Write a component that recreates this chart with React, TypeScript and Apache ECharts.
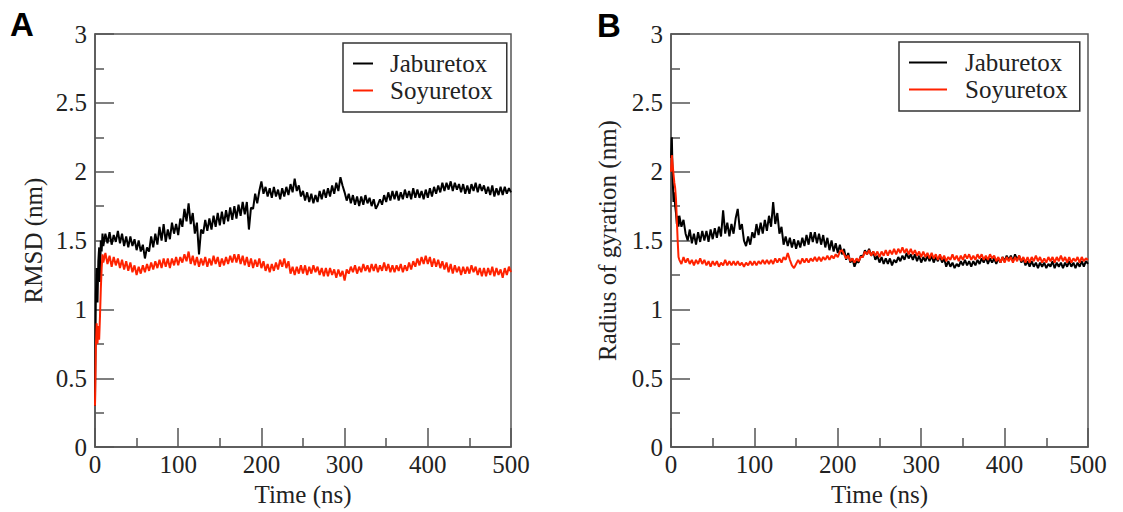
import React, { useEffect, useRef } from "react";
import * as echarts from "echarts";

const time = [0, 1, 2, 3, 4, 5, 6, 7, 8, 9,
  10, 12.5, 15, 17.5, 20, 22.5, 25, 27.5, 30, 32.5, 35, 37.5, 40, 42.5, 45, 47.5,
  50, 52.5, 55, 57.5, 60, 62.5, 65, 67.5, 70, 72.5, 75, 77.5, 80, 82.5, 85, 87.5, 90, 92.5, 95, 97.5,
  100, 102.5, 105, 107.5, 110, 112.5, 115, 117.5, 120, 122.5, 125, 127.5, 130, 132.5, 135, 137.5, 140, 142.5, 145, 147.5,
  150, 152.5, 155, 157.5, 160, 162.5, 165, 167.5, 170, 172.5, 175, 177.5, 180, 182.5, 185, 187.5, 190, 192.5, 195, 197.5,
  200, 202.5, 205, 207.5, 210, 212.5, 215, 217.5, 220, 222.5, 225, 227.5, 230, 232.5, 235, 237.5, 240, 242.5, 245, 247.5,
  250, 252.5, 255, 257.5, 260, 262.5, 265, 267.5, 270, 272.5, 275, 277.5, 280, 282.5, 285, 287.5, 290, 292.5, 295, 297.5,
  300, 302.5, 305, 307.5, 310, 312.5, 315, 317.5, 320, 322.5, 325, 327.5, 330, 332.5, 335, 337.5, 340, 342.5, 345, 347.5,
  350, 352.5, 355, 357.5, 360, 362.5, 365, 367.5, 370, 372.5, 375, 377.5, 380, 382.5, 385, 387.5, 390, 392.5, 395, 397.5,
  400, 402.5, 405, 407.5, 410, 412.5, 415, 417.5, 420, 422.5, 425, 427.5, 430, 432.5, 435, 437.5, 440, 442.5, 445, 447.5,
  450, 452.5, 455, 457.5, 460, 462.5, 465, 467.5, 470, 472.5, 475, 477.5, 480, 482.5, 485, 487.5, 490, 492.5, 495, 497.5,
  500];

const rmsdJaburetox = [0.3, 1.1, 1.3, 1.05, 1.35, 1.45, 1.2, 1.5, 1.42, 1.55,
  1.46, 1.55, 1.48, 1.56, 1.47, 1.54, 1.49, 1.57, 1.48, 1.55, 1.46, 1.53, 1.45, 1.53, 1.46, 1.51,
  1.43, 1.5, 1.42, 1.47, 1.37, 1.45, 1.42, 1.53, 1.45, 1.55, 1.47, 1.6, 1.5, 1.62, 1.49, 1.58, 1.51, 1.63, 1.55, 1.62,
  1.54, 1.66, 1.6, 1.73, 1.64, 1.77, 1.62, 1.7, 1.55, 1.63, 1.4, 1.58, 1.55, 1.65, 1.57, 1.66, 1.58, 1.68, 1.6, 1.7,
  1.61, 1.71, 1.62, 1.72, 1.64, 1.74, 1.65, 1.75, 1.66, 1.76, 1.68, 1.78, 1.69, 1.78, 1.58, 1.74, 1.73, 1.84, 1.77, 1.86,
  1.93, 1.84, 1.89, 1.82, 1.88, 1.81, 1.89, 1.82, 1.87, 1.8, 1.88, 1.82, 1.89, 1.83, 1.91, 1.85, 1.95, 1.86, 1.9, 1.82,
  1.86, 1.79, 1.85, 1.78, 1.84, 1.77, 1.83, 1.78, 1.86, 1.8, 1.87, 1.81, 1.88, 1.82, 1.9, 1.84, 1.92, 1.86, 1.96, 1.9,
  1.85, 1.79, 1.84, 1.77, 1.83, 1.76, 1.82, 1.75, 1.82, 1.76, 1.83, 1.77, 1.81, 1.75, 1.8, 1.73, 1.76, 1.8, 1.76, 1.83,
  1.78, 1.85, 1.79, 1.86, 1.8, 1.86, 1.79, 1.85, 1.8, 1.87, 1.81, 1.86, 1.8, 1.88, 1.81, 1.87, 1.81, 1.86, 1.8, 1.87,
  1.81, 1.88, 1.82, 1.89, 1.84, 1.9, 1.85, 1.92, 1.86, 1.92, 1.87, 1.93, 1.86, 1.92, 1.87, 1.91, 1.85, 1.91, 1.84, 1.9,
  1.84, 1.91, 1.86, 1.92, 1.85, 1.91, 1.86, 1.9, 1.84, 1.89, 1.83, 1.9, 1.82, 1.88, 1.83, 1.89, 1.83, 1.89, 1.84, 1.88,
  1.85];

const rmsdSoyuretox = [0.3, 0.72, 0.9, 0.75, 0.88, 0.78, 0.95, 1.15, 1.3, 1.4,
  1.34, 1.41, 1.33, 1.39, 1.31, 1.38, 1.32, 1.37, 1.3, 1.36, 1.29, 1.35, 1.28, 1.34, 1.27, 1.32,
  1.25, 1.31, 1.26, 1.32, 1.27, 1.33, 1.28, 1.34, 1.29, 1.35, 1.3, 1.36, 1.3, 1.37, 1.31, 1.37, 1.3, 1.37, 1.32, 1.38,
  1.32, 1.38, 1.34, 1.4, 1.35, 1.42, 1.33, 1.39, 1.32, 1.38, 1.31, 1.37, 1.32, 1.38, 1.31, 1.37, 1.32, 1.39, 1.33, 1.38,
  1.31, 1.37, 1.32, 1.38, 1.33, 1.39, 1.34, 1.4, 1.34, 1.4, 1.33, 1.39, 1.32, 1.38, 1.31, 1.37, 1.3, 1.36, 1.31, 1.37,
  1.3, 1.35, 1.28, 1.33, 1.27, 1.33, 1.28, 1.34, 1.29, 1.36, 1.31, 1.37, 1.3, 1.35, 1.26, 1.31, 1.25, 1.31, 1.26, 1.32,
  1.26, 1.32, 1.25, 1.31, 1.26, 1.32, 1.27, 1.31, 1.25, 1.3, 1.24, 1.3, 1.24, 1.3, 1.25, 1.29, 1.23, 1.29, 1.24, 1.28,
  1.21, 1.29, 1.26, 1.31, 1.27, 1.32, 1.26, 1.31, 1.27, 1.33, 1.28, 1.32, 1.27, 1.33, 1.28, 1.33, 1.27, 1.32, 1.28, 1.34,
  1.28, 1.33, 1.27, 1.32, 1.27, 1.32, 1.28, 1.33, 1.27, 1.32, 1.28, 1.34, 1.29, 1.35, 1.31, 1.37, 1.32, 1.38, 1.33, 1.39,
  1.33, 1.38, 1.31, 1.37, 1.31, 1.36, 1.3, 1.35, 1.29, 1.34, 1.27, 1.33, 1.26, 1.32, 1.27, 1.31, 1.25, 1.31, 1.26, 1.31,
  1.26, 1.32, 1.27, 1.31, 1.25, 1.3, 1.24, 1.3, 1.24, 1.3, 1.25, 1.31, 1.24, 1.3, 1.25, 1.29, 1.23, 1.3, 1.25, 1.31,
  1.27];

const rgJaburetox = [2.1, 2.25, 1.95, 1.78, 1.85, 1.75, 1.7, 1.62, 1.68, 1.6,
  1.68, 1.6, 1.65, 1.55, 1.5, 1.58, 1.48, 1.55, 1.47, 1.56, 1.49, 1.57, 1.5, 1.57, 1.49, 1.58,
  1.51, 1.59, 1.52, 1.6, 1.53, 1.72, 1.55, 1.63, 1.53, 1.62, 1.55, 1.66, 1.73, 1.58, 1.62, 1.5, 1.46, 1.53, 1.47, 1.56,
  1.52, 1.62, 1.54, 1.63, 1.55, 1.65, 1.57, 1.68, 1.6, 1.78, 1.62, 1.7, 1.55, 1.6, 1.47, 1.53, 1.46, 1.52, 1.45, 1.51,
  1.44, 1.5, 1.45, 1.52, 1.46, 1.54, 1.47, 1.56, 1.49, 1.56, 1.48, 1.55, 1.47, 1.54, 1.45, 1.52, 1.43, 1.5, 1.42, 1.48,
  1.41, 1.47, 1.4, 1.44, 1.36, 1.41, 1.34, 1.37, 1.31, 1.35, 1.34, 1.39, 1.38, 1.43, 1.4, 1.44, 1.39, 1.42, 1.36, 1.39,
  1.34, 1.38, 1.33, 1.37, 1.33, 1.37, 1.32, 1.36, 1.34, 1.38, 1.35, 1.39, 1.36, 1.41, 1.37, 1.4, 1.36, 1.4, 1.35, 1.39,
  1.34, 1.38, 1.35, 1.39, 1.35, 1.39, 1.34, 1.38, 1.35, 1.39, 1.34, 1.37, 1.31, 1.35, 1.31, 1.34, 1.3, 1.33, 1.31, 1.35,
  1.32, 1.36, 1.32, 1.35, 1.31, 1.35, 1.32, 1.36, 1.33, 1.37, 1.34, 1.38, 1.33, 1.37, 1.34, 1.37, 1.33, 1.37, 1.34, 1.38,
  1.35, 1.39, 1.36, 1.39, 1.35, 1.4, 1.36, 1.39, 1.34, 1.37, 1.32, 1.35, 1.31, 1.35, 1.31, 1.34, 1.3, 1.34, 1.31, 1.34,
  1.3, 1.33, 1.31, 1.35, 1.3, 1.34, 1.31, 1.34, 1.3, 1.34, 1.31, 1.35, 1.31, 1.34, 1.3, 1.34, 1.31, 1.35, 1.31, 1.35,
  1.33];

const rgSoyuretox = [2.0, 2.12, 2.05, 1.98, 1.92, 1.88, 1.8, 1.65, 1.5, 1.38,
  1.36, 1.33, 1.38, 1.34, 1.37, 1.33, 1.36, 1.32, 1.36, 1.33, 1.37, 1.33, 1.36, 1.32, 1.35, 1.31,
  1.35, 1.32, 1.35, 1.31, 1.34, 1.32, 1.36, 1.32, 1.35, 1.32, 1.35, 1.32, 1.35, 1.32, 1.34, 1.31, 1.34, 1.32, 1.35, 1.32,
  1.35, 1.32, 1.35, 1.33, 1.36, 1.33, 1.36, 1.33, 1.36, 1.33, 1.37, 1.34, 1.37, 1.34, 1.38, 1.36, 1.41, 1.36, 1.32, 1.3,
  1.33, 1.36, 1.33, 1.37, 1.34, 1.37, 1.34, 1.37, 1.35, 1.38, 1.35, 1.38, 1.35, 1.38, 1.36, 1.39, 1.36, 1.39, 1.37, 1.4,
  1.38, 1.42, 1.43, 1.4, 1.37, 1.39, 1.35, 1.37, 1.34, 1.37, 1.35, 1.38, 1.38, 1.42, 1.4, 1.43, 1.39, 1.42, 1.39, 1.42,
  1.38, 1.42, 1.39, 1.43, 1.39, 1.43, 1.4, 1.44, 1.4, 1.44, 1.41, 1.45, 1.41, 1.44, 1.4, 1.44, 1.4, 1.43, 1.39, 1.42,
  1.38, 1.42, 1.38, 1.41, 1.37, 1.41, 1.37, 1.4, 1.36, 1.4, 1.36, 1.39, 1.35, 1.38, 1.36, 1.4, 1.36, 1.39, 1.35, 1.39,
  1.36, 1.4, 1.37, 1.4, 1.36, 1.39, 1.36, 1.4, 1.37, 1.4, 1.36, 1.39, 1.36, 1.4, 1.37, 1.39, 1.35, 1.38, 1.34, 1.38,
  1.34, 1.38, 1.35, 1.38, 1.34, 1.38, 1.35, 1.39, 1.35, 1.38, 1.34, 1.38, 1.34, 1.38, 1.35, 1.39, 1.35, 1.38, 1.34, 1.37,
  1.34, 1.38, 1.35, 1.38, 1.34, 1.38, 1.35, 1.39, 1.35, 1.38, 1.34, 1.38, 1.34, 1.37, 1.35, 1.38, 1.34, 1.38, 1.35, 1.37,
  1.36];

const seriesNames = ["Jaburetox", "Soyuretox"];
const yTitles = ["RMSD (nm)", "Radius of gyration (nm)"];
const xTitle = "Time (ns)";
const panelLabels = ["A", "B"];

const SERIF = "'Liberation Serif', 'Times New Roman', serif";
const AXIS_COLOR = "#555";
const TEXT_COLOR = "#222";
const BLACK = "#000000";
const RED = "#ff2200";
const FS = 25;

const pair = (ys: number[]) => time.map((t, i) => [t, ys[i]]);

export default function App() {
  const ref = useRef<HTMLDivElement>(null);
  useEffect(() => {
    if (!ref.current) return;
    const chart = echarts.init(ref.current, null, { renderer: "svg" });

    const grids = [
      { left: 95, top: 34, width: 416, height: 416 },
      { left: 671, top: 34, width: 417, height: 415 },
    ];

    const xAxis = grids.map((_, i) => ({
      type: "value",
      gridIndex: i,
      min: 0,
      max: 500,
      interval: 100,
      name: xTitle,
      nameLocation: "middle",
      nameGap: 33,
      nameTextStyle: { fontFamily: SERIF, fontSize: FS, color: TEXT_COLOR },
      axisLine: { show: true, lineStyle: { color: AXIS_COLOR, width: 1.5 } },
      axisTick: { show: true, inside: true, length: 19, lineStyle: { color: AXIS_COLOR, width: 1.5 } },
      minorTick: { show: true, splitNumber: 2, length: 9, lineStyle: { color: AXIS_COLOR, width: 1.5 } },
      splitLine: { show: false },
      axisLabel: { fontFamily: SERIF, fontSize: FS, color: TEXT_COLOR, margin: 5 },
    }));

    const yAxis = grids.map((_, i) => ({
      type: "value",
      gridIndex: i,
      min: 0,
      max: 3,
      interval: 0.5,
      name: yTitles[i],
      nameLocation: "middle",
      nameGap: i === 0 ? 49 : 51,
      nameTextStyle: { fontFamily: SERIF, fontSize: FS, color: TEXT_COLOR },
      axisLine: { show: true, lineStyle: { color: AXIS_COLOR, width: 1.5 } },
      axisTick: { show: true, inside: true, length: 19, lineStyle: { color: AXIS_COLOR, width: 1.5 } },
      minorTick: { show: true, splitNumber: 2, length: 9, lineStyle: { color: AXIS_COLOR, width: 1.5 } },
      splitLine: { show: false },
      axisLabel: { fontFamily: SERIF, fontSize: FS, color: TEXT_COLOR, margin: 8 },
    }));

    const mkSeries = (name: string, data: number[], idx: number, color: string) => ({
      type: "line",
      name,
      xAxisIndex: idx,
      yAxisIndex: idx,
      data: pair(data),
      showSymbol: false,
      symbol: "none",
      lineStyle: { color, width: 2 },
      itemStyle: { color },
      z: color === RED ? 3 : 2,
    });

    const mkLegend = (left: number, top: number, itemWidth: number, textPad: number, rightPad: number) => ({
      data: seriesNames.map((n) => ({ name: n, icon: "rect" })),
      orient: "vertical",
      left,
      top,
      itemWidth,
      itemHeight: 2,
      itemGap: 0,
      padding: [7, rightPad, 8, 10],
      borderColor: "#333",
      borderWidth: 1.5,
      borderRadius: 0,
      selectedMode: false,
      textStyle: { fontFamily: SERIF, fontSize: FS, color: TEXT_COLOR, lineHeight: 27, padding: [0, 0, 0, textPad] },
    });

    chart.setOption({
      animation: false,
      backgroundColor: "#ffffff",
      grid: grids.map((g) => ({
        ...g,
        show: true,
        borderColor: AXIS_COLOR,
        borderWidth: 1.5,
        backgroundColor: "transparent",
        containLabel: false,
      })),
      xAxis,
      yAxis,
      legend: [mkLegend(343, 43, 20, 12, 14), mkLegend(899, 42, 38, 13, 12)],
      series: [
        mkSeries(seriesNames[0], rmsdJaburetox, 0, BLACK),
        mkSeries(seriesNames[1], rmsdSoyuretox, 0, RED),
        mkSeries(seriesNames[0], rgJaburetox, 1, BLACK),
        mkSeries(seriesNames[1], rgSoyuretox, 1, RED),
      ],
      graphic: [
        {
          type: "text",
          left: 10,
          top: 8,
          style: {
            text: panelLabels[0],
            fontFamily: "'Liberation Sans', Arial, sans-serif",
            fontWeight: "bold",
            fontSize: 33,
            fill: "#000",
          },
        },
        {
          type: "text",
          left: 597,
          top: 9,
          style: {
            text: panelLabels[1],
            fontFamily: "'Liberation Sans', Arial, sans-serif",
            fontWeight: "bold",
            fontSize: 33,
            fill: "#000",
          },
        },
      ],
    });

    return () => chart.dispose();
  }, []);

  return (
    <div
      ref={ref}
      style={{ position: "fixed", left: 0, top: 0, width: 1123, height: 512, background: "#fff" }}
    />
  );
}
